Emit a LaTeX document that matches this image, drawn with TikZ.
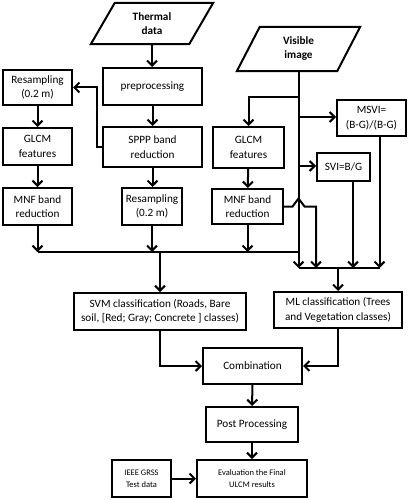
\documentclass[tikz,border=0pt]{standalone}
\usepackage{fontspec}
\setmainfont{Carlito}
\usetikzlibrary{arrows.meta,calc}
\begin{document}
\begin{tikzpicture}[x=1pt,y=-1pt,
  ln/.style={line width=2pt},
  arr/.style={line width=2pt,-{Straight Barb[length=5pt,width=10pt]}},
  box/.style={draw,line width=2pt,align=center,inner sep=0pt,font=\fontsize{11.2}{14.5}\selectfont},
  smallbox/.style={box,font=\fontsize{8.5}{12}\selectfont},
  para/.style={align=center,inner sep=0pt,font=\fontsize{11.2}{14}\selectfont\bfseries}]
\useasboundingbox (0,0) rectangle (410,500);
% helper coordinates
\coordinate (yb1) at (0,252);
\coordinate (yb2) at (0,268);
\coordinate (y97) at (0,97);
\coordinate (y117) at (0,117);
\coordinate (y166) at (0,166);
% inputs
\node[para,minimum width=122,minimum height=41] (th) at (152,23.5) {Thermal\\data};
\draw[ln] ($(th.north west)+(24,0)$) -- (th.north east) -- ($(th.south east)-(24,0)$) -- (th.south west) -- cycle;
\node[para,minimum width=123,minimum height=44] (vis) at (298.5,49) {Visible\\image};
\draw[ln] ($(vis.north west)+(23,0)$) -- (vis.north east) -- ($(vis.south east)-(23,0)$) -- (vis.south west) -- cycle;
% left / middle columns
\node[box,minimum width=69,minimum height=35] (res1) at (37.5,87.5) {Resampling\\(0.2 m)};
\node[box,minimum width=69,minimum height=37] (glcm1) at (37.5,146.5) {GLCM\\features};
\node[box,minimum width=69,minimum height=37] (mnf1) at (37.5,206.5) {MNF band\\reduction};
\node[box,minimum width=99,minimum height=37] (pre) at (152.5,86.5) {preprocessing};
\node[box,minimum width=99,minimum height=40] (sppp) at (152.5,147) {SPPP band\\reduction};
\node[box,minimum width=60,minimum height=37] (res2) at (152,206.5) {Resampling\\(0.2 m)};
% right column
\node[box,minimum width=71,minimum height=41] (glcm2) at (248.5,147.5) {GLCM\\features};
\node[box,minimum width=71,minimum height=35] (mnf2) at (247.5,206.5) {MNF band\\reduction};
\node[box,minimum width=69,minimum height=36] (msvi) at (371.5,118) {MSVI=\\(B-G)/(B-G)};
\node[box,minimum width=53,minimum height=28] (svi) at (343.5,167) {SVI=B/G};
% classifiers
\node[box,minimum width=172,minimum height=37] (svm) at (160,311.5) {SVM classification (Roads, Bare\\soil, [Red; Gray; Concrete ] classes)};
\node[box,minimum width=128,minimum height=36] (ml) at (338,310) {ML classification (Trees\\and Vegetation classes)};
\node[box,minimum width=99,minimum height=36] (comb) at (252.5,366) {Combination};
\node[box,minimum width=92,minimum height=35] (post) at (252,424.5) {Post Processing};
\node[smallbox,minimum width=110,minimum height=37] (eval) at (252,478.5) {Evaluation the Final\\ULCM results};
\node[smallbox,minimum width=59,minimum height=37] (ieee) at (141.5,478.5) {IEEE GRSS\\Test data};
% thermal chain
\draw[arr] (th.south) -- (th.south |- pre.north);
\draw[arr] (pre) -- (sppp);
\draw[arr] (sppp.west) -- ++(-5,0) |- (res1.east);
\draw[arr] (res1) -- (glcm1);
\draw[arr] (glcm1) -- (mnf1);
\draw[arr] (sppp.south) -- (sppp.south |- res2.north);
% bus 1
\draw[ln] (mnf1.south |- yb1) -- (vis.south |- yb1);
\draw[arr] (mnf1.south) -- (mnf1.south |- yb1);
\draw[arr] (res2.south) -- (res2.south |- yb1);
\draw[arr] (mnf2.south) -- (mnf2.south |- yb1);
\draw[arr] (svm.north |- yb1) -- (svm.north);
% visible chain
\draw[arr] (vis.south) -- (vis.south |- yb2);
\draw[arr] (vis.south |- y97) -| (glcm2.north);
\draw[arr] (vis.south |- y117) -- (vis.south |- y117 -| msvi.west);
\draw[arr] (vis.south |- y166) -- (vis.south |- y166 -| svi.west);
\draw[arr] (glcm2) -- (mnf2);
\draw[arr] (mnf2.east) -- (292.5,206.5) -- (298.5,198.5) -- (304.5,206.5) -- (316,206.5) -- (316,268);
\draw[arr] ($(svi.south)+(9.5,0)$) -- (353,268);
\draw[arr] ($(msvi.south)+(8,0)$) -- (379.5,268);
% bus 2
\draw[ln] (vis.south |- yb2) -- (379.5,268);
\draw[arr] (ml.north |- yb2) -- (ml.north);
% combination
\draw[arr] (svm.south) |- (comb.west);
\draw[arr] (ml.south) |- (comb.east);
\draw[arr] (comb) -- (post);
\draw[arr] (post) -- (eval);
\draw[arr] (ieee) -- (eval);
\end{tikzpicture}
\end{document}
